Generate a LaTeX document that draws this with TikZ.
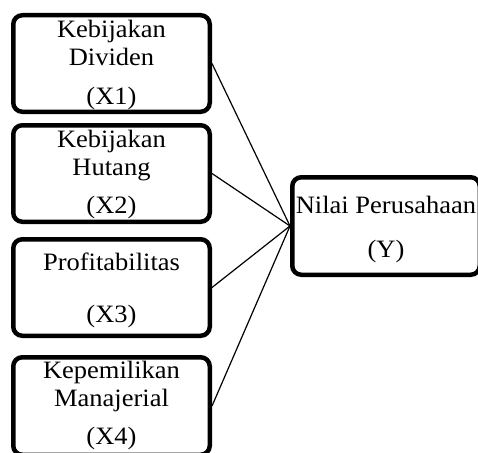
\documentclass[tikz,border=0pt]{standalone}
\usepackage{fontspec}
\setmainfont{Liberation Serif}[FakeStretch=1.06]
\begin{document}
\begin{tikzpicture}[x=1pt,y=-1pt,
  box/.style={draw, line width=4.5pt, rounded corners=9pt, inner sep=0pt},
  lbl/.style={anchor=base, inner sep=0pt, font=\fontsize{25}{27}\selectfont},
  link/.style={line width=1.2pt}]
\useasboundingbox (0,0) rectangle (478,452);
\clip (0,0) rectangle (478,452);
% boxes
\node[box, minimum width=196.5pt, minimum height=96.5pt] (b1) at (111.5,63.5) {};
\node[box, minimum width=196.5pt, minimum height=96.5pt] (b2) at (111.5,173.5) {};
\node[box, minimum width=196.5pt, minimum height=96.5pt] (b3) at (111.5,287.5) {};
\node[box, minimum width=196.5pt, minimum height=97.5pt] (b4) at (111.5,406) {};
\node[box, minimum width=187.5pt, minimum height=97.5pt] (y) at (386,226) {};
% texts
\node[lbl] (t1a) at (111.5,37.5) {Kebijakan};
\node[lbl] (t1b) at (111.5,65) {Dividen};
\node[lbl] (t1c) at (111.5,104) {(X1)};
\node[lbl] (t2a) at (111.5,147) {Kebijakan};
\node[lbl] (t2b) at (111.5,175) {Hutang};
\node[lbl] (t2c) at (111.5,213) {(X2)};
\node[lbl] (t3a) at (111.5,270) {Profitabilitas};
\node[lbl] (t3b) at (111.5,322) {(X3)};
\node[lbl] (t4a) at (111.5,378) {Kepemilikan};
\node[lbl] (t4b) at (111.5,406) {Manajerial};
\node[lbl] (t4c) at (111.5,444) {(X4)};
\node[lbl] (tya) at (386,213) {Nilai Perusahaan};
\node[lbl] (tyb) at (386,257) {(Y)};
% links
\draw[link] (b1.east) -- (y.west);
\draw[link] (b2.east) -- (y.west);
\draw[link] (b3.east) -- (y.west);
\draw[link] (b4.east) -- (y.west);
\end{tikzpicture}
\end{document}
